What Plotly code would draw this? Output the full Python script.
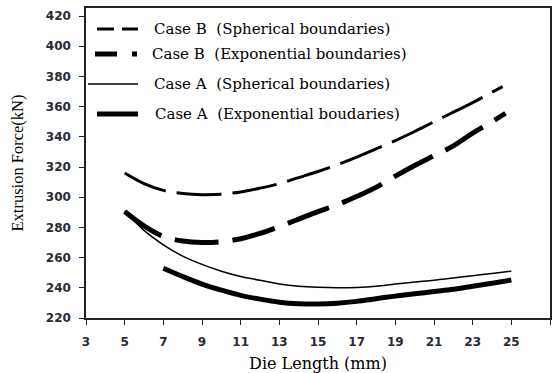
import plotly.graph_objects as go

# Die length (mm) and extrusion force (kN) for each case
b_sph_x = [5, 6, 7, 8, 9, 10, 11, 12, 13, 14, 15, 16, 17, 18, 19, 20, 21, 22, 23, 24, 24.55]
b_sph_y = [316, 309, 304.5, 302.5, 301.7, 302, 303.5, 306, 309, 313, 317, 321.5, 326.5, 332, 337.5, 343.5, 350, 356.3, 362.6, 369.5, 373.2]

b_exp_x = [5, 6, 7, 8, 9, 10, 11, 12, 13, 14, 15, 16, 17, 18, 19, 20, 21, 22, 23, 24, 24.7]
b_exp_y = [290.5, 281, 274, 271, 270, 270.5, 272.5, 276, 280.5, 285.5, 290.5, 295, 300.5, 306.5, 314, 321, 327.5, 334, 342.5, 350, 355.6]

a_sph_x = [5, 6, 7, 8, 9, 10, 11, 12, 13, 14, 15, 16, 17, 18, 19, 20, 21, 22, 23, 24, 25]
a_sph_y = [291, 278, 268.5, 261, 255.5, 251, 247.5, 245, 242.5, 241, 240.3, 240, 240.2, 241, 242.5, 243.8, 245, 246.5, 248, 249.5, 251]

a_exp_x = [7, 8, 9, 10, 11, 12, 13, 14, 15, 16, 17, 18, 19, 20, 21, 22, 23, 24, 25]
a_exp_y = [253, 247.5, 242.5, 238.5, 235, 232.5, 230.5, 229.5, 229.3, 229.8, 231, 232.8, 234.5, 236, 237.5, 239, 241, 243, 245.2]

series_names = [
    "Case B  (Spherical boundaries)",
    "Case B  (Exponential boundaries)",
    "Case A  (Spherical boundaries)",
    "Case A  (Exponential boudaries)",
]

x_ticks = list(range(3, 28, 2))
y_ticks = list(range(220, 421, 20))

SERIF = "Liberation Serif"
WIDE_SERIF = "DejaVu Serif"
SANS = "DejaVu Sans"

# per-series styling: (width, dash in plot, dash in key)
styles = [
    (3, "45px,11px", "17px,8px"),
    (5, "44px,14px", "22px,15px,5px,15px"),
    (1.5, "solid", "solid"),
    (5, "solid", "solid"),
]
data = [(b_sph_x, b_sph_y), (b_exp_x, b_exp_y), (a_sph_x, a_sph_y), (a_exp_x, a_exp_y)]

fig = go.Figure()
for (xs, ys), name, (w, dash, _) in zip(data, series_names, styles):
    fig.add_trace(go.Scatter(
        x=xs, y=ys, name=name, mode="lines",
        line=dict(color="black", width=w, dash=dash, shape="spline", smoothing=1.0),
        showlegend=False, hoverinfo="skip",
    ))

# Legend key drawn inside the plot frame
W, H = 557, 373
ml, mr, mt, mb = 86, 7, 8, 55
pw, ph = W - ml - mr, H - mt - mb


def px_to_paper(px, py):
    return (px - ml) / pw, (H - mb - py) / ph


key_rows = [
    (97, 138, 29, 152),
    (95, 137, 54, 150),
    (88, 138, 84, 152),
    (97, 138, 114, 153),
]
shapes = []
annotations = []
for (x0, x1, yy, tx), name, (w, _, kdash) in zip(key_rows, series_names, styles):
    a0, b0 = px_to_paper(x0, yy)
    a1, _ = px_to_paper(x1, yy)
    shapes.append(dict(type="line", xref="paper", yref="paper",
                       x0=a0, x1=a1, y0=b0, y1=b0,
                       line=dict(color="black", width=w, dash=kdash)))
    ta, tb = px_to_paper(tx, yy)
    annotations.append(dict(xref="paper", yref="paper", x=ta, y=tb,
                            xanchor="left", yanchor="middle", showarrow=False,
                            text=name, font=dict(family=WIDE_SERIF, size=15, color="black")))

fig.update_layout(
    width=W, height=H,
    margin=dict(l=ml, r=mr, t=mt, b=mb),
    paper_bgcolor="white", plot_bgcolor="white",
    shapes=shapes, annotations=annotations,
    showlegend=False,
    xaxis=dict(
        range=[3, 27], tickvals=x_ticks, ticktext=[str(v) for v in x_ticks],
        showgrid=False, zeroline=False, automargin=False,
        showline=True, linecolor="#222", linewidth=1.5, mirror=True,
        ticks="outside", ticklen=5, tickwidth=1.2, tickcolor="#222",
        ticklabelstandoff=7,
        tickfont=dict(family=SANS, size=12, color="#2a2a35", weight="bold"),
        title=dict(text="Die Length (mm)", font=dict(family=WIDE_SERIF, size=16, color="black"), standoff=11),
    ),
    yaxis=dict(
        range=[220, 425.3], tickvals=y_ticks, ticktext=[str(v) for v in y_ticks],
        showgrid=False, zeroline=False, automargin=False,
        showline=True, linecolor="#222", linewidth=1.5, mirror=True,
        ticks="outside", ticklen=5, tickwidth=1.2, tickcolor="#222",
        ticklabelstandoff=6,
        tickfont=dict(family=SANS, size=12, color="#2a2a35", weight="bold"),
        title=dict(text="Extrusion Force(kN)", font=dict(family=SERIF, size=16.5, color="black"), standoff=18),
    ),
)

fig.write_html("out.html")
